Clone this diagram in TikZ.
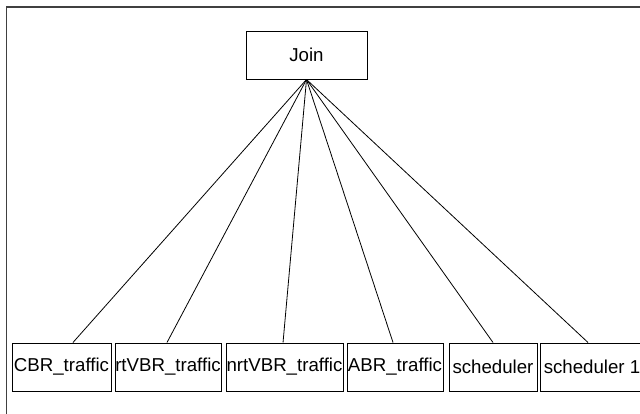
\documentclass[tikz,border=0pt]{standalone}
\usepackage{fontspec}
\setmainfont{Liberation Sans}
\usetikzlibrary{positioning}

\begin{document}
\begin{tikzpicture}[
        x=0.75pt, y=-0.75pt,
        block/.style={rectangle, draw, line width=0.75pt, minimum height=36pt, inner sep=0pt, font=\fontsize{14}{16}\selectfont},
        link/.style={line width=0.6pt}
    ]
%
    \useasboundingbox (0,0) rectangle (640,414);
    \draw[line width=0.8pt, black!75] (6.5,414) -- (6.5,7) -- (640,7);
%
    % Nodes
    \node[block, minimum width=90.75pt] (join) at (306.5,55) {Join};
    \node[block, minimum width=74.25pt] (cbr) at (61.5,367) {CBR\_traffic};
    \node[block, minimum width=79.5pt, right=2.25pt of cbr] (rtvbr) {rtVBR\_traffic};
    \node[block, minimum width=87.75pt, right=3pt of rtvbr] (nrtvbr) {nrtVBR\_traffic};
    \node[block, minimum width=72pt, right=2.25pt of nrtvbr] (abr) {ABR\_traffic};
    \node[block, minimum width=66pt, right=3.75pt of abr] (sched) {scheduler};
    \node[block, minimum width=78pt, right=1.5pt of sched] (schedone) {scheduler 1};
%
    % Links
    \draw[link] (join.south) -- ([xshift=8.6pt]cbr.north);
    \draw[link] (join.south) -- ([xshift=-0.75pt]rtvbr.north);
    \draw[link] (join.south) -- ([xshift=-1.1pt]nrtvbr.north);
    \draw[link] (join.south) -- ([xshift=-1.5pt]abr.north);
    \draw[link] (join.south) -- (sched.north);
    \draw[link] (join.south) -- ([xshift=-3pt]schedone.north);
%
\end{tikzpicture}
\end{document}
